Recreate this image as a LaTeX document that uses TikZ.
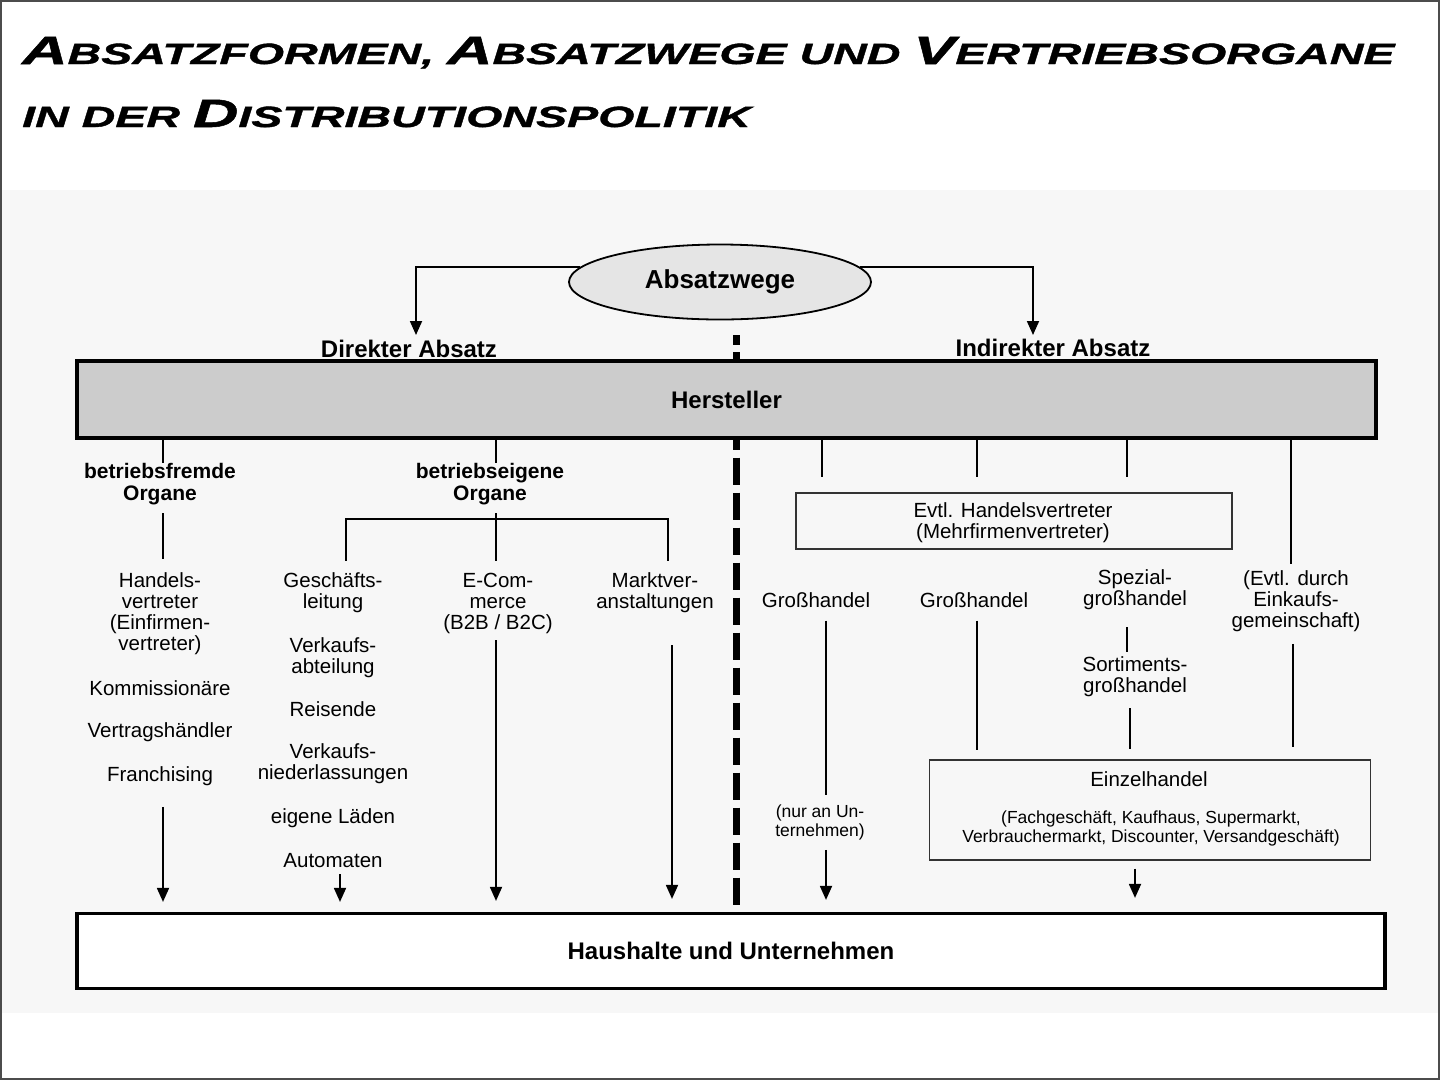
\documentclass[tikz,border=0pt]{standalone}
\usepackage{fontspec}
\setmainfont{Liberation Sans}
\newfontfamily\titlefont{Liberation Sans}[UprightFont=* Bold Italic, FakeStretch=1.59, FakeBold=1.3]
\usetikzlibrary{shapes.geometric,arrows.meta}
\newcommand\TB[1]{{\fontsize{39.5pt}{42pt}\selectfont #1}}
\tikzset{
  txt/.style={font=\fontsize{20.5pt}{21pt}\selectfont, align=center, inner sep=0pt},
  bl/.style={font=\bfseries\fontsize{24pt}{26pt}\selectfont, inner sep=0pt},
  org/.style={font=\bfseries\fontsize{21pt}{22pt}\selectfont, align=center, inner sep=0pt},
  sm/.style={font=\fontsize{17.5pt}{19pt}\selectfont, align=center, inner sep=0pt},
  ln/.style={line width=1.8pt},
  arr/.style={line width=1.8pt, -{Triangle[length=14pt,width=12pt]}},
  hbox/.style={draw, line width=3.2pt, rectangle, inner sep=0pt, font=\bfseries\fontsize{24pt}{26pt}\selectfont},
  thinbox/.style={draw=black!80, line width=1.4pt, rectangle, inner sep=0pt},
  dl/.style={line width=7pt},
  ttl/.style={font=\titlefont\fontsize{29.3pt}{31pt}\selectfont, inner sep=0pt, anchor=base west}
}
\begin{document}
\begin{tikzpicture}[x=1pt,y=-1pt]
\useasboundingbox (0,0) rectangle (1440,1080);
\fill[white] (0,0) rectangle (1440,1080);
\fill[black!3] (0,190) rectangle (1440,1013);
\draw[black!70, line width=2pt] (1,1) rectangle (1439,1079);

% title
\node[ttl] (t1) at (22,64) {\TB{A}BSATZFORMEN, \TB{A}BSATZWEGE UND \TB{V}ERTRIEBSORGANE};
\node[ttl] (t2) at (22,127) {IN DER \TB{D}ISTRIBUTIONSPOLITIK};

% column coordinates
\coordinate (cA) at (163,0);
\coordinate (cB) at (496,0);
\coordinate (cC) at (672,0);
\coordinate (cD) at (340,0);
\coordinate (c1) at (822,0);
\coordinate (c1b) at (826,0);
\coordinate (c2) at (977,0);
\coordinate (c3) at (1127,0);
\coordinate (c3b) at (1130,0);
\coordinate (c4) at (1291,0);
\coordinate (c4b) at (1293,0);
\coordinate (cE) at (1135,0);
\coordinate (dtop) at (736,335);
\coordinate (dtip) at (416,335);
\coordinate (itip) at (1033,335);
\coordinate (bkl) at (346,519);
\coordinate (bkr) at (668,519);

% top
\node[ellipse, draw, line width=1.8pt, fill=black!10, minimum width=302pt, minimum height=75pt, inner sep=0pt,
      font=\bfseries\fontsize{26pt}{28pt}\selectfont] (aw) at (720,282) {Absatzwege};
\node[bl] (dir) at (409,349) {Direkter Absatz};
\node[bl] (ind) at (1053,348) {Indirekter Absatz};
\draw[arr] (aw.174) -| (dtip);
\draw[arr] (aw.6) -| (itip);

% dashed separator
\draw[dl, dash pattern=on 10pt off 7pt] (dtop) -- (dtop |- 0,362);
\node[hbox, fill=black!20, minimum width=1299pt, minimum height=77pt] (hers) at (726.5,399.5) {Hersteller};
\node[hbox, fill=white, minimum width=1308pt, minimum height=75pt] (haus) at (731,951) {Haushalte und Unternehmen};
\draw[dl, dash pattern=on 27pt off 8pt, dash phase=17pt, shorten >=3pt] (hers.south -| dtop) -- (dtop |- haus.north);

% left: betriebsfremde Organe
\node[org] (bfo) at (160,484) {betriebsfremde\\Organe};
\node[txt] (hv1) at (160,614) {Handels-\\vertreter\\(Einfirmen-\\vertreter)};
\node[txt] (kom) at (160,688) {Kommissionäre};
\node[txt] (vth) at (160,732) {Vertragshändler};
\node[txt] (fra) at (160,776) {Franchising};
\draw[ln] (hers.south -| cA) -- (bfo.north -| cA);
\draw[ln, shorten <=8pt, shorten >=14pt] (bfo.south -| cA) -- (hv1.north -| cA);
\draw[arr, shorten <=21pt, shorten >=10pt] (fra.south -| cA) -- (haus.north -| cA);

% betriebseigene Organe
\node[org] (beo) at (490,484) {betriebseigene\\Organe};
\node[txt] (gl) at (333,593) {Geschäfts-\\leitung};
\node[txt] (va) at (333,658) {Verkaufs-\\abteilung};
\node[txt] (rei) at (333,709) {Reisende};
\node[txt] (vn) at (333,764) {Verkaufs-\\niederlassungen};
\node[txt] (el) at (333,818) {eigene Läden};
\node[txt] (aut) at (333,861) {Automaten};
\node[txt] (ec) at (498,603) {E-Com-\\merce\\(B2B / B2C)};
\node[txt] (mv) at (655,593) {Marktver-\\anstaltungen};
\draw[ln] (hers.south -| cB) -- (beo.north -| cB);
\draw[ln, shorten <=8pt, shorten >=12pt] (beo.south -| cB) -- (ec.north -| cB);
\draw[ln, shorten <=12pt, shorten >=12pt] (gl.north -| bkl) -- (bkl) -- (bkr) -- (mv.north -| bkr);
\draw[arr, shorten <=6pt, shorten >=10pt] (aut.south -| cD) -- (haus.north -| cD);
\draw[arr, shorten <=7pt, shorten >=11pt] (ec.south -| cB) -- (haus.north -| cB);
\draw[arr, shorten <=32pt, shorten >=13pt] (mv.south -| cC) -- (haus.north -| cC);

% right: indirekter Absatz
\node[thinbox, minimum width=436pt, minimum height=56pt] (hvb) at (1014,521) {};
\node[txt] (hvt) at (1013,523) {Evtl. Handelsvertreter\\(Mehrfirmenvertreter)};
\node[txt] (gh1) at (816,600) {Großhandel};
\node[txt] (gh2) at (974,600) {Großhandel};
\node[txt] (spez) at (1135,590) {Spezial-\\großhandel};
\node[txt] (evtl) at (1296,601) {(Evtl. durch\\Einkaufs-\\gemeinschaft)};
\node[txt] (sort) at (1135,677) {Sortiments-\\großhandel};
\node[sm] (nur) at (820,822) {(nur an Un-\\ternehmen)};
\node[thinbox, minimum width=441pt, minimum height=100pt] (ezh) at (1150,810) {};
\node[txt] (ezht) at (1149,779) {Einzelhandel};
\node[sm] (ezhs) at (1151,828) {(Fachgeschäft, Kaufhaus, Supermarkt,\\Verbrauchermarkt, Discounter, Versandgeschäft)};

\draw[ln, shorten >=15pt] (hers.south -| c1) -- (hvb.north -| c1);
\draw[ln, shorten >=15pt] (hers.south -| c2) -- (hvb.north -| c2);
\draw[ln, shorten >=15pt] (hers.south -| c3) -- (hvb.north -| c3);
\draw[ln, shorten >=6pt] (hers.south -| c4) -- (evtl.north -| c4);
\draw[ln, shorten <=13pt, shorten >=9pt] (gh1.south -| c1b) -- (nur.north -| c1b);
\draw[arr, shorten <=10pt, shorten >=12pt] (nur.south -| c1b) -- (haus.north -| c1b);
\draw[ln, shorten <=13pt, shorten >=9pt] (gh2.south -| c2) -- (ezh.north -| c2);
\draw[ln, shorten <=17pt, shorten >=5pt] (spez.south -| c3) -- (sort.north -| c3);
\draw[ln, shorten <=11pt, shorten >=10pt] (sort.south -| c3b) -- (ezh.north -| c3b);
\draw[ln, shorten <=12pt, shorten >=12pt] (evtl.south -| c4b) -- (ezh.north -| c4b);
\draw[arr, shorten <=8pt, shorten >=14pt] (ezh.south -| cE) -- (haus.north -| cE);
\end{tikzpicture}
\end{document}
